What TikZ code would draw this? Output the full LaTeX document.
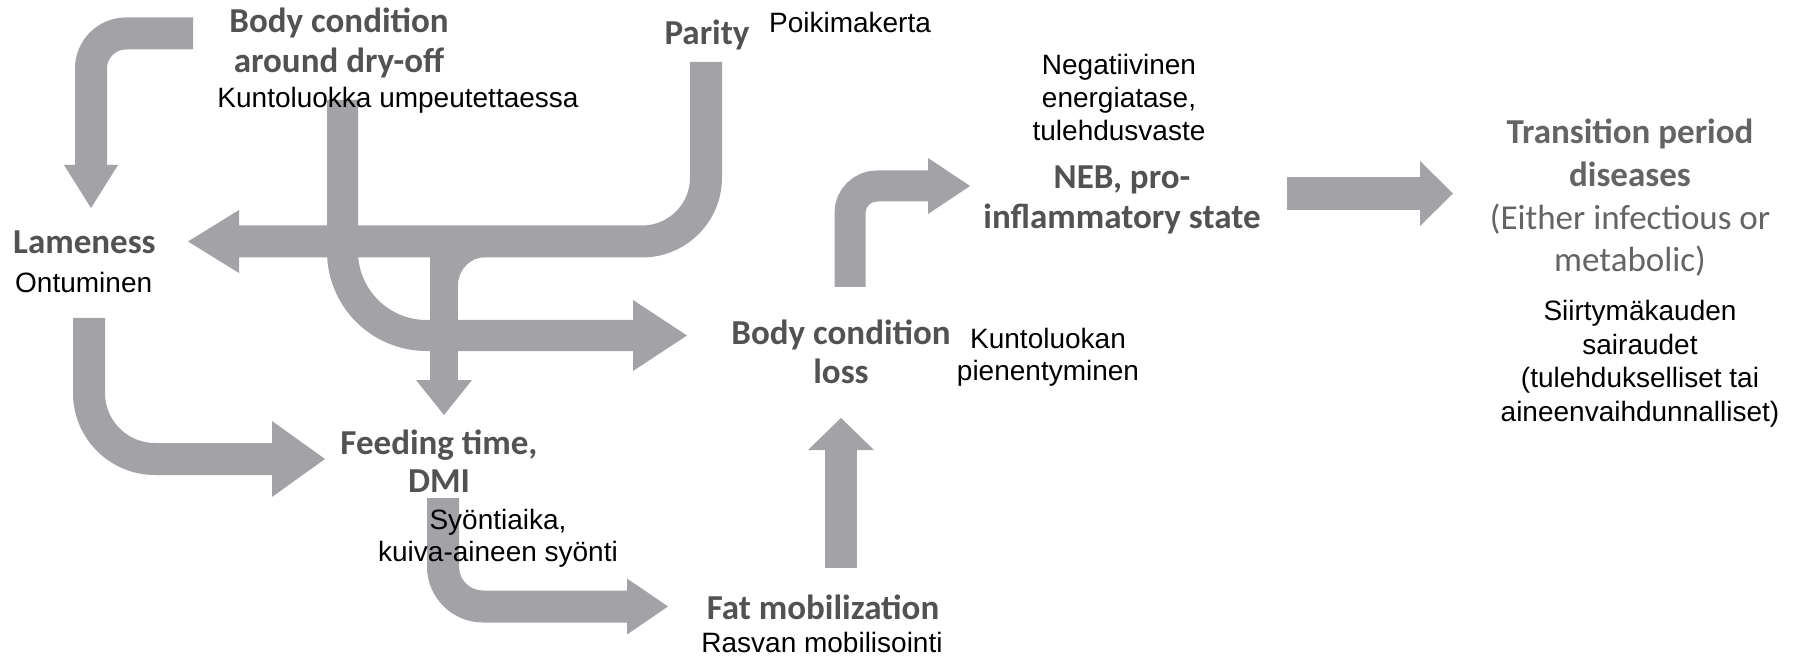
\documentclass[tikz,border=0pt]{standalone}
\usepackage{fontspec}
\setmainfont{Liberation Sans}
\newfontfamily\labfont{Carlito}
\usetikzlibrary{calc}
\definecolor{arrowgray}{RGB}{163,163,167}
\definecolor{labgray}{RGB}{82,82,82}
\definecolor{transgray}{RGB}{100,100,100}
\begin{document}
\begin{tikzpicture}[x=1pt,y=-1pt,
  band/.style={draw=arrowgray, line cap=butt, line join=miter},
  head/.style={fill=arrowgray},
  en/.style={font=\labfont\bfseries\fontsize{35}{40}\selectfont, text=labgray, align=center, inner sep=0pt},
  fi/.style={font=\fontsize{28}{33}\selectfont, text=black, align=center, inner sep=0pt}
]
\path[use as bounding box, fill=white] (0,0) rectangle (1794,660);

% ---------- arrows ----------
% Body condition around dry-off -> Lameness
\coordinate (a1s) at (193,33.5);
\coordinate (a1c) at (91,33.5);
\coordinate (a1b) at (91,166);
\draw[band, line width=32pt, rounded corners=35pt] (a1s) -- (a1c) -- (a1b);
\fill[head] (a1b) ++(-27,-1) -- ++(27,43) -- ++(27,-43) -- cycle;

% Parity -> Lameness
\coordinate (a2s) at (706,62);
\coordinate (a2c) at (706,241.5);
\coordinate (a2b) at (237,241.5);
\draw[band, line width=32pt, rounded corners=64pt] (a2s) -- (a2c) -- (a2b);
\fill[head] (a2b) ++(2,-31.5) -- ++(-51,31.5) -- ++(51,31.5) -- cycle;

% Parity branch -> Feeding time
\coordinate (a3s) at (444,241.5);
\coordinate (a3b) at (444,382);
\draw[band, line width=28pt] (a3s) -- (a3b);
\fill[head] (a3b) ++(-28,-2) -- ++(28,35) -- ++(28,-35) -- cycle;
\fill[arrowgray] (458,257) -- (458,285) arc[start angle=180, end angle=270, radius=28] -- cycle;

% Body condition around dry-off -> Body condition loss
\coordinate (a4s) at (342.5,100);
\coordinate (a4c) at (342.5,335.5);
\coordinate (a4b) at (635,335.5);
\draw[band, line width=31pt, rounded corners=84pt] (a4s) -- (a4c) -- (a4b);
\fill[head] (a4b) ++(-2,-35.5) -- ++(54,35.5) -- ++(-54,35.5) -- cycle;

% Lameness -> Feeding time
\coordinate (a5s) at (89,318);
\coordinate (a5c) at (89,459);
\coordinate (a5b) at (274,459);
\draw[band, line width=32pt, rounded corners=66pt] (a5s) -- (a5c) -- (a5b);
\fill[head] (a5b) ++(-2,-38) -- ++(53,38) -- ++(-53,38) -- cycle;

% Feeding time -> Fat mobilization
\coordinate (a6s) at (443,498);
\coordinate (a6c) at (443,606.5);
\coordinate (a6b) at (629,606.5);
\draw[band, line width=32pt, rounded corners=40pt] (a6s) -- (a6c) -- (a6b);
\fill[head] (a6b) ++(-2,-28) -- ++(41,28) -- ++(-41,28) -- cycle;

% Fat mobilization -> Body condition loss
\coordinate (a7s) at (841,568);
\coordinate (a7b) at (841,448);
\draw[band, line width=32pt] (a7s) -- (a7b);
\fill[head] (a7b) ++(-33,2) -- ++(33,-32) -- ++(33,32) -- cycle;

% Body condition loss -> NEB
\coordinate (a8s) at (850,287);
\coordinate (a8c) at (850,186);
\coordinate (a8b) at (930,186);
\draw[band, line width=31pt, rounded corners=27pt] (a8s) -- (a8c) -- (a8b);
\fill[head] (a8b) ++(-2,-28) -- ++(42,28) -- ++(-42,28) -- cycle;

% NEB -> Transition period diseases
\coordinate (a9s) at (1287,193.5);
\coordinate (a9b) at (1422,193.5);
\draw[band, line width=33pt] (a9s) -- (a9b);
\fill[head] (a9b) ++(-2,-32.5) -- ++(33,32.5) -- ++(-33,32.5) -- cycle;

% ---------- labels ----------
\node[en] (bcdry) at (339,43) {Body condition\\around dry-off};
\node[fi] (fibcdry) at (398,100) {Kuntoluokka umpeutettaessa};
\node[en] (parity) at (707,35) {Parity};
\node[fi] (fiparity) at (850,22) {Poikimakerta};
\node[en, anchor=west] (lame) at (13,242) {Lameness};
\node[fi, anchor=west] (filame) at (15,282) {Ontuminen};
\node[en, font=\labfont\bfseries\fontsize{35}{38}\selectfont] (feed) at (439,461) {Feeding time,\\DMI};
\node[fi, font=\fontsize{28}{32}\selectfont] (fifeed) at (498,538) {Syöntiaika,\\kuiva-aineen syönti};
\node[en, font=\labfont\bfseries\fontsize{35}{39}\selectfont] (bcloss) at (841,352) {Body condition\\loss};
\node[fi, font=\fontsize{28}{32}\selectfont] (fibcloss) at (1048,357) {Kuntoluokan\\pienentyminen};
\node[en] (fat) at (823,607) {Fat mobilization};
\node[fi] (fifat) at (822,642) {Rasvan mobilisointi};
\node[en] (neb) at (1122,200) {NEB, pro-\\inflammatory state};
\node[fi] (fineb) at (1119,97) {Negatiivinen\\energiatase,\\tulehdusvaste};
\node[en, text=transgray, font=\labfont\fontsize{35}{42.7}\selectfont] (trans) at (1630,198)
  {\bfseries Transition period\\\bfseries diseases\\(Either infectious or\\metabolic)};
\node[fi, font=\fontsize{28}{33.5}\selectfont] (fitrans) at (1640,364)
  {Siirtymäkauden\\sairaudet\\(tulehdukselliset tai\\aineenvaihdunnalliset)};
\end{tikzpicture}
\end{document}
